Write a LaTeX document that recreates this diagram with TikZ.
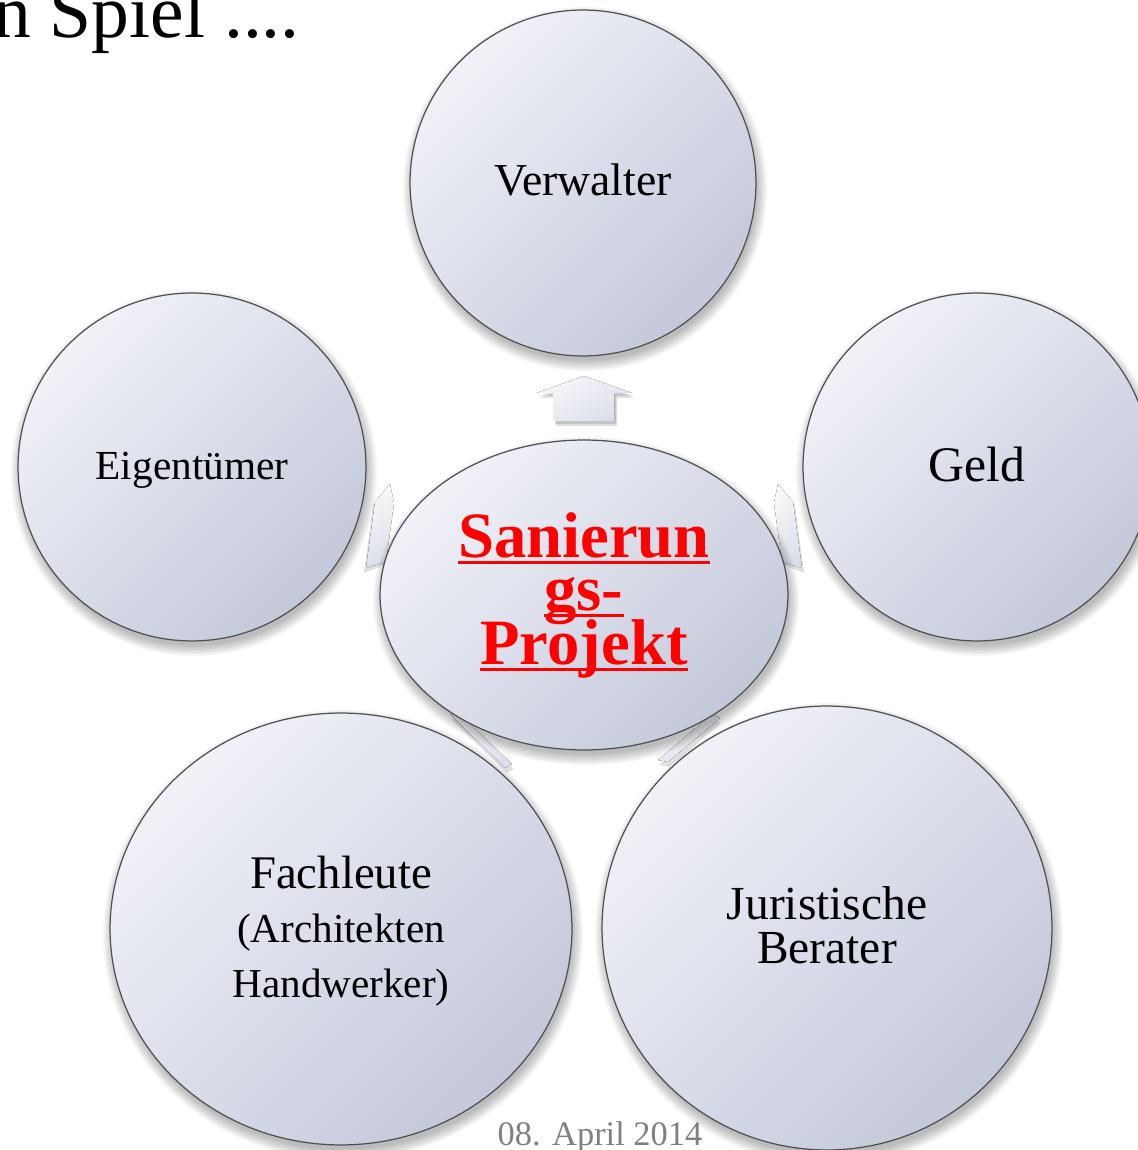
\documentclass[tikz,border=0pt]{standalone}
\usepackage{fontspec}
\setmainfont{Liberation Serif}
\usetikzlibrary{shapes.geometric}
\definecolor{circlight}{HTML}{F1F2F8}
\definecolor{circdark}{HTML}{C3C8DA}
\definecolor{edgecol}{HTML}{505050}
\definecolor{datecol}{HTML}{808080}
\definecolor{arrlight}{HTML}{F7F8FB}
\definecolor{arrdark}{HTML}{DCDFE9}
\newsavebox\ulbox
\newcommand\ulred[1]{\sbox\ulbox{#1}\rlap{\rule[-3.65pt]{\wd\ulbox}{1.7pt}}\usebox\ulbox}
% a line of fixed height (#2) and depth (#3)
\newcommand\fixline[3]{\rule[-#3]{0pt}{\dimexpr#2+#3\relax}\smash{#1}}
\newcommand\softshadow[4]{%
  \foreach \k in {0,...,7}{\fill[black,opacity=0.035] (#1,#2) ellipse [x radius={#3+9-1.5*\k}, y radius={#4+9-1.5*\k}];}}
\tikzset{
  bubble/.style={ellipse, draw=edgecol, line width=0.7pt, top color=circlight,
    bottom color=circdark, shading angle=45, inner sep=0pt, align=center},
  arrowpart/.style={top color=arrlight, bottom color=arrdark, shading angle=30, draw=none},
  arrshadow/.style={fill=black, opacity=0.12},
}
\begin{document}
\begin{tikzpicture}[x=0.02cm, y=0.02cm]
\useasboundingbox (0,0) rectangle (1137,1150);
\fill[white] (0,0) rectangle (1137,1150);

% arrows (behind the bubbles)
\foreach \dx/\dy in {3/-5, 2/-3} {
  \fill[arrshadow, shift={(\dx,\dy)}] (584,774) -- (632,757) -- (614,757) -- (614,729) -- (553,729) -- (553,757) -- (537,757) -- cycle;
}
\fill[arrowpart] (584,774) -- (632,757) -- (614,757) -- (614,729) -- (553,729) -- (553,757) -- (537,757) -- cycle;

\fill[arrshadow] (389,663) -- (393,644) -- (385,585) -- (364,577) -- (373,645) -- cycle;
\fill[arrowpart] (390,666) -- (394,647) -- (386,588) -- (366,582) -- (375,648) -- cycle;
\fill[arrshadow] (779,663) -- (775,644) -- (784,585) -- (804,577) -- (795,645) -- cycle;
\fill[arrowpart] (778,666) -- (774,647) -- (782,588) -- (802,582) -- (793,648) -- cycle;
\fill[arrshadow] (451,431) -- (463,429) -- (514,381) -- (507,377) -- cycle;
\fill[arrowpart] (450,436) -- (462,434) -- (512,386) -- (505,382) -- cycle;
\fill[arrshadow] (713,431) -- (721,427) -- (669,383) -- (659,385) -- cycle;
\fill[arrowpart] (712,436) -- (720,432) -- (668,388) -- (658,390) -- cycle;

% soft shadows
\softshadow{585}{961}{173}{173}
\softshadow{194}{677}{174}{174}
\softshadow{979}{677}{174}{174}
\softshadow{586}{549}{204}{155}
\softshadow{343}{215}{231}{216}
\softshadow{829}{216}{225}{222}

% bubbles
\node[bubble, minimum width=6.92cm, minimum height=6.92cm,
  font=\fontsize{26}{30}\selectfont] (verw) at (583,967) {\fixline{Verwalter}{18.2pt}{3.5pt}};
\node[bubble, minimum width=6.96cm, minimum height=6.96cm,
  font=\fontsize{23.5}{28}\selectfont] (eig) at (192,683) {\fixline{Eigentümer}{18.2pt}{3.5pt}};
\node[bubble, minimum width=6.96cm, minimum height=6.96cm,
  font=\fontsize{28.3}{32}\selectfont] (geld) at (977,683) {\fixline{Geld}{20pt}{3pt}};
\node[bubble, minimum width=8.16cm, minimum height=6.2cm, text=red,
  font=\bfseries\fontsize{36.8}{30.6}\selectfont] (proj) at (584,555)
  {\fixline{\ulred{Sanierun}}{24.35pt}{6.25pt}\\
   \fixline{\ulred{gs-}}{24.35pt}{6.25pt}\\
   \fixline{\ulred{Projekt}}{24.35pt}{6.25pt}};
\node[bubble, minimum width=9.24cm, minimum height=8.64cm,
  font=\fontsize{23.4}{31.2}\selectfont] (fach) at (341,221)
  {\fixline{\fontsize{26.6}{31.2}\selectfont Fachleute}{23.55pt}{7.65pt}\\
   \fixline{(Architekten}{23.55pt}{7.65pt}\\
   \fixline{Handwerker)}{23.55pt}{7.65pt}};
\node[bubble, minimum width=9.0cm, minimum height=8.88cm,
  font=\fontsize{27}{24.4}\selectfont] (jur) at (827,222)
  {\fixline{Juristische}{19.85pt}{4.55pt}\\
   \fixline{Berater}{19.85pt}{4.55pt}};

% texts outside bubbles
\node[font=\fontsize{43}{50}\selectfont, anchor=base east, inner sep=0pt] (title) at (300,1112) {n Spiel ....};
\node[font=\fontsize{19.6}{22}\selectfont, text=datecol, anchor=base, inner sep=0pt] (date) at (600,5) {08. April 2014};
\end{tikzpicture}
\end{document}
